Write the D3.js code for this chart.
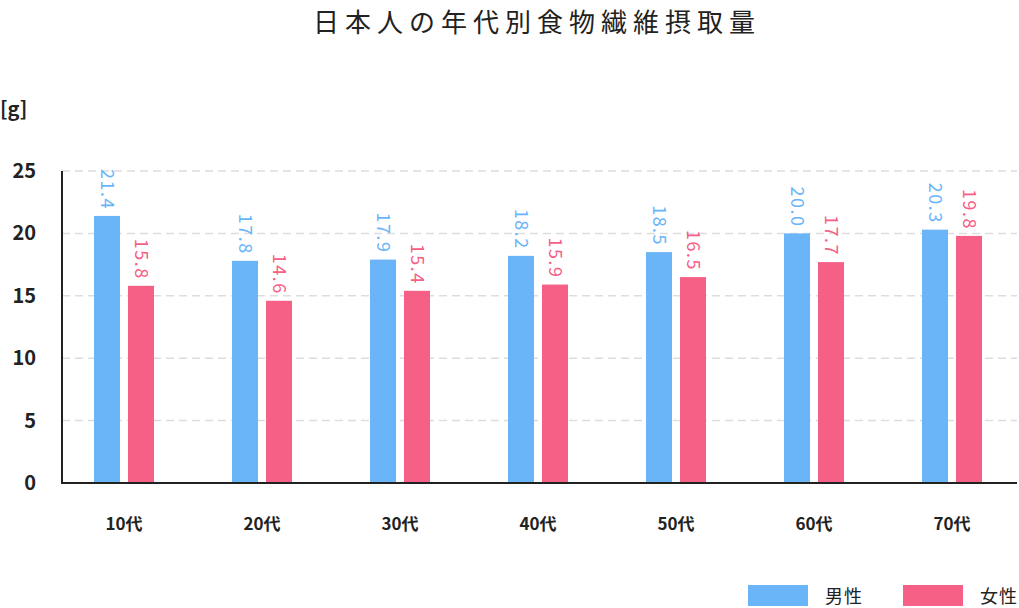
<!DOCTYPE html>
<html><head><meta charset="utf-8">
<script src="https://cdn.jsdelivr.net/npm/d3@7"></script>
<style>body{margin:0;background:#fff}text{font-family:"Noto Sans CJK JP","Noto Sans",sans-serif}</style>
</head><body><svg id="c" width="1019" height="608"></svg>
<script>
const categories=["10代","20代","30代","40代","50代","60代","70代"];
const male=[21.4,17.8,17.9,18.2,18.5,20.0,20.3];
const female=[15.8,14.6,15.4,15.9,16.5,17.7,19.8];
const yTicks=[0,5,10,15,20,25];
const seriesNames=["男性","女性"];
const colors=["#6ab4f8","#f66086"];

const svg=d3.select("#c");
const x=d3.scaleBand().domain(categories).range([55,1021]);
const y=d3.scaleLinear().domain([0,25]).range([483,171]);

svg.append("text").attr("x",537).attr("y",32).attr("text-anchor","middle")
  .attr("font-size",26).attr("letter-spacing",6).attr("fill","#222").text("日本人の年代別食物繊維摂取量");
svg.append("text").attr("x",0).attr("y",116).attr("font-size",20).attr("font-weight","bold").attr("fill","#222").text("[g]");

svg.selectAll(".grid").data(yTicks.filter(d=>d>0)).join("line")
  .attr("x1",62).attr("x2",1017).attr("y1",d=>y(d)).attr("y2",d=>y(d))
  .attr("stroke","#ddd").attr("stroke-width",1.5).attr("stroke-dasharray","8,5");
svg.selectAll(".yt").data(yTicks).join("text")
  .attr("x",36).attr("y",d=>y(d)+7).attr("text-anchor","end")
  .attr("font-size",20).attr("font-weight","bold").attr("fill","#222").text(d=>d);

[male,female].forEach((vals,s)=>{
  const off=s===0?-30:4;
  const g=svg.append("g");
  g.selectAll("rect").data(vals).join("rect")
    .attr("x",(d,i)=>x(categories[i])+x.bandwidth()/2+off).attr("width",26)
    .attr("y",d=>y(d)).attr("height",d=>y(0)-y(d)).attr("fill",colors[s]);
  g.selectAll("text").data(vals).join("text")
    .attr("transform",(d,i)=>`translate(${x(categories[i])+x.bandwidth()/2+off+7},${y(d)-6}) rotate(90)`)
    .attr("text-anchor","end").attr("font-size",18).attr("letter-spacing",1.5)
    .attr("fill",colors[s]).text(d=>d.toFixed(1));
});

svg.append("line").attr("x1",62).attr("x2",62).attr("y1",171).attr("y2",483).attr("stroke","#222").attr("stroke-width",2);
svg.append("line").attr("x1",61).attr("x2",1017).attr("y1",483).attr("y2",483).attr("stroke","#222").attr("stroke-width",2);

svg.selectAll(".xt").data(categories).join("text")
  .attr("x",d=>x(d)+x.bandwidth()/2).attr("y",530).attr("text-anchor","middle")
  .attr("font-size",17).attr("font-weight","bold").attr("fill","#222").text(d=>d);

seriesNames.forEach((n,i)=>{
  const lx=748+i*155;
  svg.append("rect").attr("x",lx).attr("y",585).attr("width",60).attr("height",21).attr("fill",colors[i]);
  svg.append("text").attr("x",lx+77).attr("y",603).attr("font-size",18).attr("letter-spacing",1).attr("fill","#222").text(n);
});
</script></body></html>
